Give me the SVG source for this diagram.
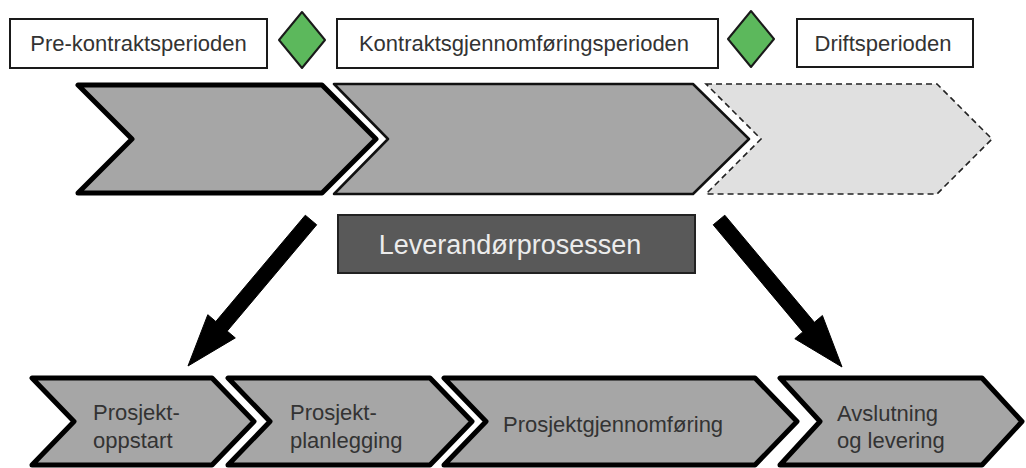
<svg xmlns="http://www.w3.org/2000/svg" width="1026" height="468" viewBox="0 0 1026 468">
<style>
.lbl{fill:#fff;stroke:#1a1a1a;stroke-width:2}
.lt{font-family:"Liberation Sans",Arial,sans-serif;font-size:22px;fill:#333}
.ms{fill:#5cb85c;stroke:#1a1a1a;stroke-width:2;stroke-linejoin:round}
.chv{fill:#a6a6a6;stroke:#000;stroke-width:5;stroke-linejoin:round}
.chv2{fill:#a6a6a6;stroke:#111;stroke-width:2.5;stroke-linejoin:round}
.chv3{fill:#e0e0e0;stroke:#222;stroke-width:1.6;stroke-dasharray:6 4}
.bt{font-family:"Liberation Sans",Arial,sans-serif;font-size:22px;fill:#333}
.arr{fill:#000;stroke:#000;stroke-width:1;stroke-linejoin:round}
</style>
<rect width="1026" height="468" fill="#fff"/>
<g id="label-pre">
<rect class="lbl" x="10" y="19" width="257" height="49"/>
<text class="lt" x="138.5" y="51" text-anchor="middle">Pre-kontraktsperioden</text>
</g>
<g id="milestone-1"><polygon class="ms" points="302,12 325,40 302,68 279,40"/></g>
<g id="label-kontrakt">
<rect class="lbl" x="337" y="19" width="381" height="49"/>
<text class="lt" x="524" y="51" text-anchor="middle">Kontraktsgjennomføringsperioden</text>
</g>
<g id="milestone-2"><polygon class="ms" points="751,11 774,39 751,67 728,39"/></g>
<g id="label-drift">
<rect class="lbl" x="797" y="19" width="176" height="48"/>
<text class="lt" x="883" y="51" text-anchor="middle">Driftsperioden</text>
</g>
<g id="phase-pre"><polygon class="chv" points="78,85 322,85 376,139 322,193 78,193 132,139"/></g>
<g id="phase-kontrakt"><polygon class="chv2" points="334,84 693,84 749,139 693,194 334,194 388,139"/></g>
<g id="phase-drift"><polygon class="chv3" points="706,84 937,84 992,139 937,194 706,194 761,139"/></g>
<g id="leverandor">
<rect x="338" y="215" width="357" height="58" fill="#595959" stroke="#222" stroke-width="2"/>
<text x="510" y="254" text-anchor="middle" font-family="'Liberation Sans',Arial,sans-serif" font-size="27" fill="#ececec">Leverandørprosessen</text>
</g>
<g id="connectors">
<polygon class="arr" points="316.7,224.8 305.3,215.2 215.8,321.5 207.8,314.7 188,366 235.3,337.9 227.2,331.1"/>
<polygon class="arr" points="724.8,215.2 713.2,224.8 802.8,331.9 794.8,338.7 842,367 822.4,315.5 814.4,322.3"/>
</g>
<g id="step-oppstart">
<polygon class="chv" points="32,378 212,378 254,421.5 212,465 32,465 74,421.5"/>
<text class="bt" x="93" y="420">Prosjekt-</text>
<text class="bt" x="93" y="448">oppstart</text>
</g>
<g id="step-planlegging">
<polygon class="chv" points="228,378 430,378 472,421.5 430,465 228,465 270,421.5"/>
<text class="bt" x="290" y="420">Prosjekt-</text>
<text class="bt" x="290" y="448">planlegging</text>
</g>
<g id="step-gjennomforing">
<polygon class="chv" points="444,378 755,378 797,421.5 755,465 444,465 486,421.5"/>
<text class="bt" x="503" y="432">Prosjektgjennomføring</text>
</g>
<g id="step-avslutning">
<polygon class="chv" points="780,378 982,378 1022,421.5 982,465 780,465 820,421.5"/>
<text class="bt" x="837" y="421">Avslutning</text>
<text class="bt" x="837" y="448">og levering</text>
</g>
</svg>
